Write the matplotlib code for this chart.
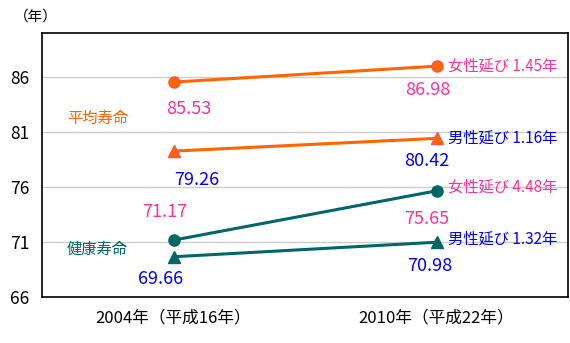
import matplotlib.pyplot as plt

plt.rcParams['font.family'] = ['Noto Sans CJK JP', 'DejaVu Sans']

# data
years = ['2004年（平成16年）', '2010年（平成22年）']
female_avg = [85.53, 86.98]
male_avg = [79.26, 80.42]
female_health = [71.17, 75.65]
male_health = [69.66, 70.98]
notes = ['女性延び 1.45年', '男性延び 1.16年', '女性延び 4.48年', '男性延び 1.32年']
yticks = [66, 71, 76, 81, 86]

ORANGE = '#FF6600'
TEAL = '#006666'
PINK = '#FF3399'
BLUE = '#0000FF'

fig = plt.figure(figsize=(5.7, 3.43), dpi=100)
ax = fig.add_axes([0.0737, 0.134, 0.9228, 0.770])
x = [0, 1]

ax.plot(x, female_avg, color=ORANGE, lw=2.2, marker='o', ms=8, mfc=ORANGE, mec='#FF5050', zorder=3)
ax.plot(x, male_avg, color=ORANGE, lw=2.2, marker='^', ms=9, mfc=ORANGE, mec='#FF5050', zorder=3)
ax.plot(x, female_health, color=TEAL, lw=2.2, marker='o', ms=8, mfc=TEAL, mec=TEAL, zorder=3)
ax.plot(x, male_health, color=TEAL, lw=2.2, marker='^', ms=9, mfc=TEAL, mec=TEAL, zorder=3)

# value labels (offsets in points)
fs = 13
def val(xi, y, dx, dy, color):
    ax.annotate('%.2f' % y, (xi, y), xytext=(dx, dy), textcoords='offset points',
                ha='center', va='center', fontsize=fs, color=color)

val(0, female_avg[0], 11, -19, PINK)
val(1, female_avg[1], -6, -17, PINK)
val(0, male_avg[0], 17, -21, BLUE)
val(1, male_avg[1], -7, -16, BLUE)
val(0, female_health[0], -6, 20, PINK)
val(1, female_health[1], -7, -20, PINK)
val(0, male_health[0], -9, -16, BLUE)
val(1, male_health[1], -5, -17, BLUE)

# growth notes
series_end = [female_avg[1], male_avg[1], female_health[1], male_health[1]]
note_colors = [PINK, BLUE, PINK, BLUE]
note_dy = [0, 0, 3, 2]
for n, y, c, dy in zip(notes, series_end, note_colors, note_dy):
    ax.annotate(n, (1, y), xytext=(8, dy), textcoords='offset points',
                ha='left', va='center', fontsize=11, color=c)

# series labels, placed in figure pixels
fig.text(67 / 570, 1 - 118 / 343, '平均寿命', fontsize=11, color=ORANGE,
         ha='left', va='center')
fig.text(67 / 570, 1 - 249 / 343, '健康寿命', fontsize=11, color=TEAL,
         ha='left', va='center')

fig.text(14 / 570, 1 - 17 / 343, '（年）', fontsize=10.5, ha='left', va='center')

ax.set_xlim(-0.5, 1.5)
ax.set_ylim(66, 90)
ax.set_yticks(yticks)
ax.set_yticklabels([str(v) for v in yticks], fontsize=12.5)
ax.set_xticks(x)
ax.set_xticklabels(years, fontsize=12)
ax.tick_params(length=0, pad=9)
ax.tick_params(axis='x', pad=9)
ax.grid(axis='y', color='#C8D0C8', lw=1)
ax.set_axisbelow(True)
for s in ax.spines.values():
    s.set_color('black')
    s.set_linewidth(1.2)

fig.savefig('out.png', dpi=100)
